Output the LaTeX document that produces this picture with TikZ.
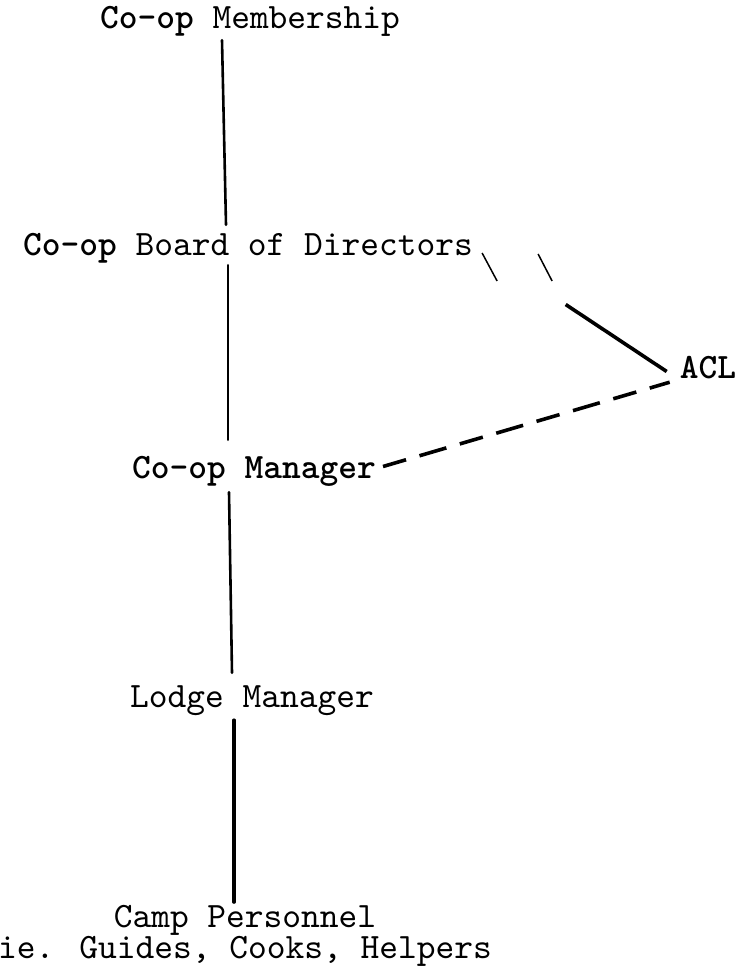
\documentclass[tikz,border=0pt]{standalone}
\usepackage{fontspec}
\newfontfamily\typefont{lmmono10-regular.otf}[BoldFont=lmmonolt10-bold.otf]
\usetikzlibrary{positioning}
\tikzset{
  role/.style={inner sep=0pt, anchor=base,
    text height=20pt, text depth=7pt,
    font=\typefont\fontsize{35.7}{28}\selectfont},
  link/.style={line width=2.6pt, line cap=round},
  tick/.style={line width=1.5pt},
  dashlink/.style={line width=3.6pt},
}

\begin{document}
\begin{tikzpicture}[x=1pt, y=-1pt]
  \useasboundingbox (0,0) rectangle (748,975);

  % Positions on the typed sheet
  \node[role] (member)  at (250,28)  {\textbf{Co-op} Membership};
  \node[role] (board)   at (248,255) {\textbf{Co-op} Board of Directors};
  \node[role] (manager) at (254,478) {\textbf{Co-op Manager}};
  \node[role] (acl)     at (708,378) {\textbf{ACL}};
  \node[role] (lodge)   at (252,707) {Lodge Manager};
  \node[role, text height=, text depth=, align=center,
        anchor=north] (camp) at (245,905) {Camp Personnel\\ie. Guides, Cooks, Helpers};

  % Line of authority
  \draw[link] ([xshift=-28pt,yshift=-5pt]member.south) -- ([xshift=-22pt,yshift=10pt]board.north);
  \draw[link] ([xshift=-20pt,yshift=-3pt]board.south)  -- ([xshift=-26pt,yshift=18pt]manager.north);
  \draw[link] ([xshift=-25pt,yshift=-7pt]manager.south) -- ([xshift=-20pt,yshift=14pt]lodge.north);
  \draw[link, line width=3.6pt] ([xshift=-18pt,yshift=-6pt]lodge.south) -- ([xshift=-11pt,yshift=3pt]camp.north);

  % Advisory links to ACL
  \draw[tick] ([xshift=9pt,yshift=-4.5pt]board.east) -- ++(15,28)
              ++(41,-27) -- ++(14,27);
  \draw[dashlink] ([xshift=-13pt]acl.west) -- ++(-101,-67);
  \draw[dashlink, dash pattern=on 24pt off 14pt on 28pt off 14pt]
    ([xshift=7pt,yshift=5pt]manager.east) -- ([xshift=-10pt,yshift=3pt]acl.south west);

\end{tikzpicture}
\end{document}
